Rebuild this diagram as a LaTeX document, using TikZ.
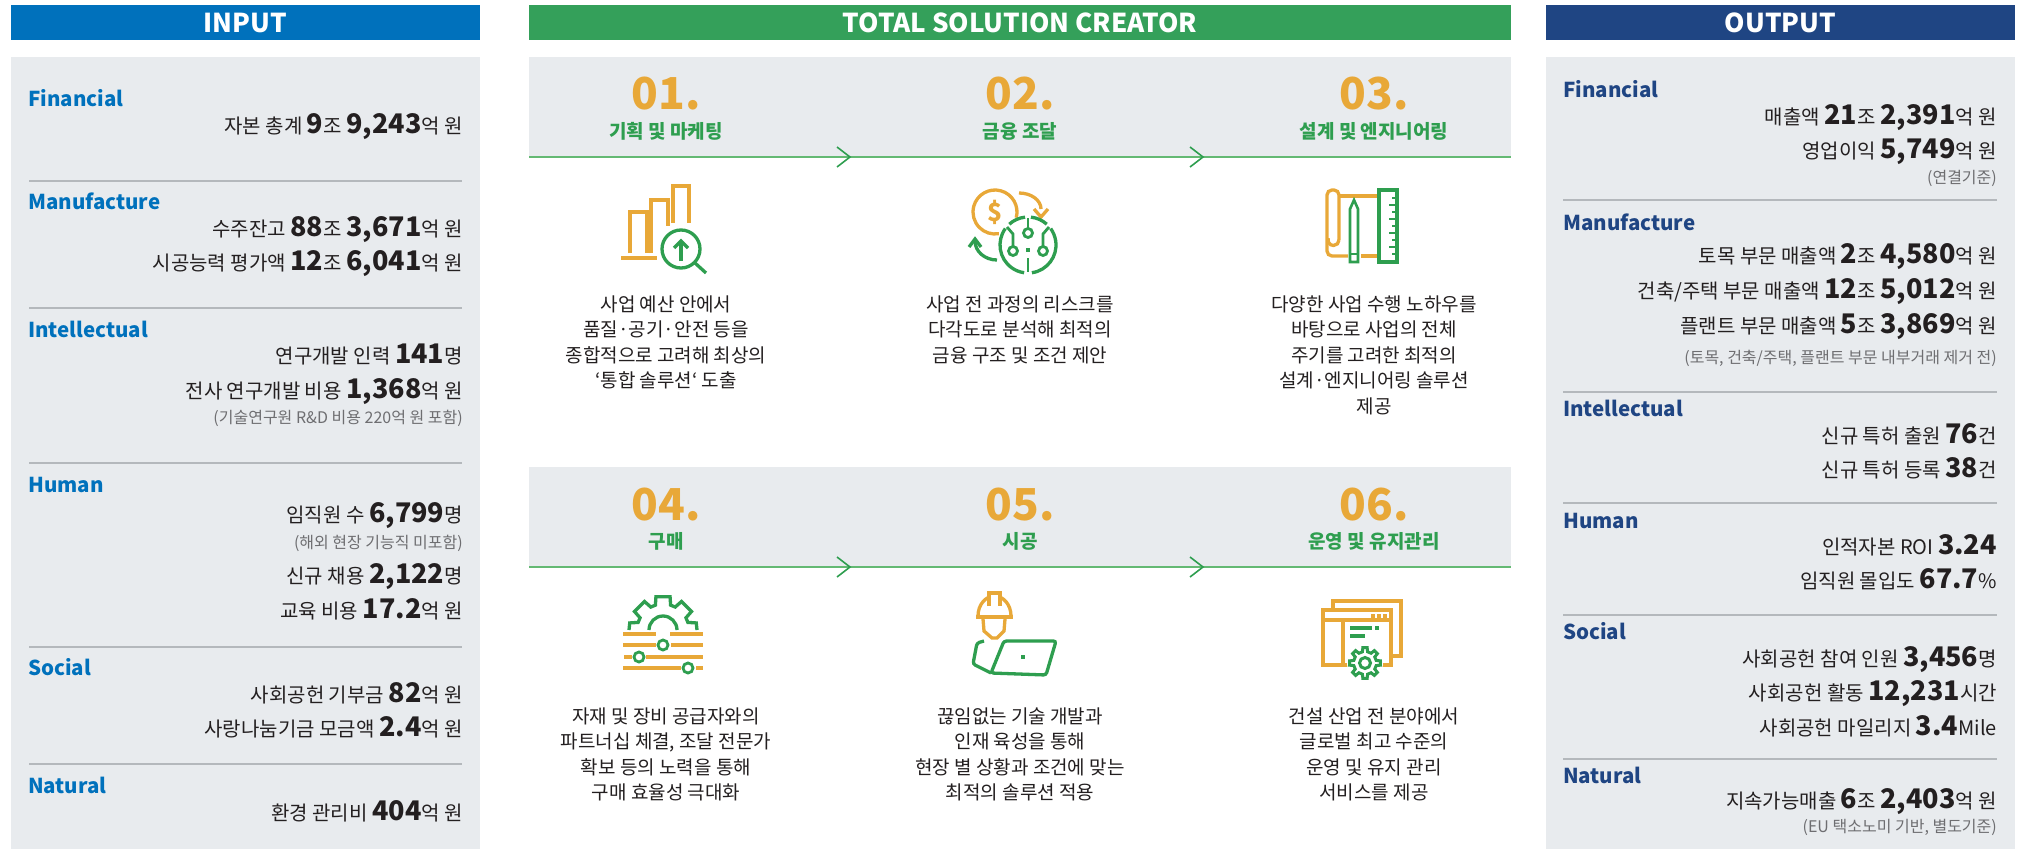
\documentclass[tikz,border=0pt]{standalone}
\usepackage{fontspec}
\setmainfont{Noto Sans CJK KR}
\definecolor{inblue}{RGB}{0,113,188}
\definecolor{outnavy}{RGB}{31,69,131}
\definecolor{hgreen}{RGB}{52,160,90}
\definecolor{igreen}{RGB}{46,158,79}
\definecolor{lgreen}{RGB}{100,185,115}
\definecolor{orng}{RGB}{232,168,56}
\definecolor{panelgray}{RGB}{232,235,238}
\definecolor{sepgray}{RGB}{180,184,188}
\definecolor{txt}{RGB}{35,31,32}
\definecolor{notegray}{RGB}{110,110,113}
\newcommand\bnum[1]{{\fontsize{27}{27}\selectfont\bfseries #1}}
\begin{document}
\begin{tikzpicture}[x=1pt,y=-1pt,
  hdr/.style={text=white, font=\fontsize{26}{26}\selectfont\bfseries, inner sep=0pt, minimum height=35pt},
  cat/.style={anchor=base west, font=\fontsize{20.5}{21}\selectfont\bfseries, inner sep=0pt},
  val/.style={anchor=base east, text=txt, font=\fontsize{20}{24}\selectfont, inner sep=0pt},
  note/.style={anchor=base east, text=notegray, font=\fontsize{16}{18}\selectfont, inner sep=0pt},
  sep/.style={sepgray, line width=1.5pt},
  stepnum/.style={anchor=base, text=orng, font=\fontsize{44}{44}\selectfont\bfseries, inner sep=0pt},
  steptitle/.style={anchor=base, text=igreen, font=\fontsize{19}{19}\selectfont\bfseries, inner sep=0pt},
  desc/.style={anchor=base, text=txt, font=\fontsize{19}{25.5}\selectfont, align=center, inner sep=0pt},
  oc/.style={draw=orng, line width=3.3pt},
  gc/.style={draw=igreen, line width=3.3pt},
  flowline/.style={draw=lgreen, line width=2pt},
  chev/.style={draw=igreen, line width=1.6pt}]
\fill[white] (0,0) rectangle (2037,851);
\useasboundingbox (0,0) rectangle (2037,851);

% panels
\fill[panelgray] (11,57) rectangle (480,849);
\fill[panelgray] (1546,57) rectangle (2015,849);
\fill[panelgray] (529,57) rectangle (1511,157);
\fill[panelgray] (529,467) rectangle (1511,567);

% headers
\node[hdr, fill=inblue, minimum width=469pt] (hin) at (245.5,22.5) {INPUT};
\node[hdr, fill=hgreen, minimum width=982pt] (hmid) at (1020,22.5) {TOTAL SOLUTION CREATOR};
\node[hdr, fill=outnavy, minimum width=469pt] (hout) at (1780.5,22.5) {OUTPUT};

% ---------------- INPUT ----------------
\node[cat, text=inblue] (ifin) at (28,106) {Financial};
\node[val] (ifin1) at (463,133) {자본 총계 \bnum{9}조 \bnum{9,243}억 원};
\draw[sep] (29,181) -- (462,181);
\node[cat, text=inblue] (iman) at (28,209) {Manufacture};
\node[val] (iman1) at (463,236) {수주잔고 \bnum{88}조 \bnum{3,671}억 원};
\node[val] (iman2) at (463,270) {시공능력 평가액 \bnum{12}조 \bnum{6,041}억 원};
\draw[sep] (29,308) -- (462,308);
\node[cat, text=inblue] (iint) at (28,337) {Intellectual};
\node[val] (iint1) at (463,363) {연구개발 인력 \bnum{141}명};
\node[val] (iint2) at (463,398) {전사 연구개발 비용 \bnum{1,368}억 원};
\node[note] (iint3) at (463,423) {(기술연구원 R\&D 비용 220억 원 포함)};
\draw[sep] (29,463) -- (462,463);
\node[cat, text=inblue] (ihum) at (28,492) {Human};
\node[val] (ihum1) at (463,522) {임직원 수 \bnum{6,799}명};
\node[note] (ihum2) at (463,548) {(해외 현장 기능직 미포함)};
\node[val] (ihum3) at (463,583) {신규 채용 \bnum{2,122}명};
\node[val] (ihum4) at (463,618) {교육 비용 \bnum{17.2}억 원};
\draw[sep] (29,647) -- (462,647);
\node[cat, text=inblue] (isoc) at (28,675) {Social};
\node[val] (isoc1) at (463,702) {사회공헌 기부금 \bnum{82}억 원};
\node[val] (isoc2) at (463,736) {사랑나눔기금 모금액 \bnum{2.4}억 원};
\draw[sep] (29,764) -- (462,764);
\node[cat, text=inblue] (inat) at (28,793) {Natural};
\node[val] (inat1) at (463,820) {환경 관리비 \bnum{404}억 원};

% ---------------- OUTPUT ----------------
\node[cat, text=outnavy] (ofin) at (1563,97) {Financial};
\node[val] (ofin1) at (1997,124) {매출액 \bnum{21}조 \bnum{2,391}억 원};
\node[val] (ofin2) at (1997,158) {영업이익 \bnum{5,749}억 원};
\node[note] (ofin3) at (1997,183) {(연결기준)};
\draw[sep] (1563,200) -- (1997,200);
\node[cat, text=outnavy] (oman) at (1563,230) {Manufacture};
\node[val] (oman1) at (1997,263) {토목 부문 매출액 \bnum{2}조 \bnum{4,580}억 원};
\node[val] (oman2) at (1997,298) {건축/주택 부문 매출액 \bnum{12}조 \bnum{5,012}억 원};
\node[val] (oman3) at (1997,333) {플랜트 부문 매출액 \bnum{5}조 \bnum{3,869}억 원};
\node[note] (oman4) at (1997,363) {(토목, 건축/주택, 플랜트 부문 내부거래 제거 전)};
\draw[sep] (1563,392) -- (1997,392);
\node[cat, text=outnavy] (oint) at (1563,416) {Intellectual};
\node[val] (oint1) at (1997,443) {신규 특허 출원 \bnum{76}건};
\node[val] (oint2) at (1997,477) {신규 특허 등록 \bnum{38}건};
\draw[sep] (1563,503) -- (1997,503);
\node[cat, text=outnavy] (ohum) at (1563,528) {Human};
\node[val] (ohum1) at (1997,554) {인적자본 ROI \bnum{3.24}};
\node[val] (ohum2) at (1997,588) {임직원 몰입도 \bnum{67.7}\%};
\draw[sep] (1563,615) -- (1997,615);
\node[cat, text=outnavy] (osoc) at (1563,639) {Social};
\node[val] (osoc1) at (1997,666) {사회공헌 참여 인원 \bnum{3,456}명};
\node[val] (osoc2) at (1997,700) {사회공헌 활동 \bnum{12,231}시간};
\node[val] (osoc3) at (1997,735) {사회공헌 마일리지 \bnum{3.4}Mile};
\draw[sep] (1563,759) -- (1997,759);
\node[cat, text=outnavy] (onat) at (1563,783) {Natural};
\node[val] (onat1) at (1997,808) {지속가능매출 \bnum{6}조 \bnum{2,403}억 원};
\node[note] (onat2) at (1997,832) {(EU 택소노미 기반, 별도기준)};

% ---------------- MIDDLE ----------------
\coordinate (fl1a) at (529,157); \coordinate (fl1b) at (1511,157);
\coordinate (fl2a) at (529,567); \coordinate (fl2b) at (1511,567);
\draw[flowline] (fl1a) -- (fl1b);
\draw[flowline] (fl2a) -- (fl2b);
\foreach \cx in {837,1190}{
  \draw[chev] (\cx,147) -- (\cx+13,157) -- (\cx,167);
  \draw[chev] (\cx,557) -- (\cx+13,567) -- (\cx,577);
}

\node[stepnum] (s1) at (666,110) {01.};
\node[stepnum] (s2) at (1020,110) {02.};
\node[stepnum] (s3) at (1374,110) {03.};
\node[steptitle] (t1) at (666,138) {기획 및 마케팅};
\node[steptitle] (t2) at (1020,138) {금융 조달};
\node[steptitle] (t3) at (1374,138) {설계 및 엔지니어링};
% desc nodes: base anchor = baseline of the last line
\node[desc] (d1) at (666,387.5) {사업 예산 안에서\\품질·공기·안전 등을\\종합적으로 고려해 최상의\\‘통합 솔루션‘ 도출};
\node[desc] (d2) at (1020,362) {사업 전 과정의 리스크를\\다각도로 분석해 최적의\\금융 구조 및 조건 제안};
\node[desc] (d3) at (1374,413) {다양한 사업 수행 노하우를\\바탕으로 사업의 전체\\주기를 고려한 최적의\\설계·엔지니어링 솔루션\\제공};

\node[stepnum] (s4) at (666,520) {04.};
\node[stepnum] (s5) at (1020,520) {05.};
\node[stepnum] (s6) at (1374,520) {06.};
\node[steptitle] (t4) at (666,548) {구매};
\node[steptitle] (t5) at (1020,548) {시공};
\node[steptitle] (t6) at (1374,548) {운영 및 유지관리};
\node[desc] (d4) at (666,799.5) {자재 및 장비 공급자와의\\파트너십 체결, 조달 전문가\\확보 등의 노력을 통해\\구매 효율성 극대화};
\node[desc] (d5) at (1020,799.5) {끊임없는 기술 개발과\\인재 육성을 통해\\현장 별 상황과 조건에 맞는\\최적의 솔루션 적용};
\node[desc] (d6) at (1374,799.5) {건설 산업 전 분야에서\\글로벌 최고 수준의\\운영 및 유지 관리\\서비스를 제공};

% ---------------- ICONS ----------------
% icon 1: bars + magnifier
\draw[oc] (621,258) -- (657,258);
\draw[oc] (630,253) -- (630,212) -- (647,212) -- (647,253);
\draw[oc] (651,253) -- (651,200) -- (668,200) -- (668,226);
\draw[oc] (673,223) -- (673,186) -- (689,186) -- (689,223);
\draw[gc] (681,249) circle[radius=19pt];
\draw[gc] (695,263) -- (706,273);
\draw[gc] (681,261) -- (681,242);
\draw[gc] (674,248) -- (681,241) -- (688,248);

% icon 2: money / circuit
\draw[oc] ([shift={(-15:22pt)}]995,212) arc[start angle=-15, end angle=280, radius=22pt];
\node[text=orng, font=\fontsize{25}{25}\selectfont\bfseries, inner sep=0pt] (dollar) at (995,212) {\$};
\draw[oc] (1019,193) arc[start angle=90, end angle=0, x radius=22pt, y radius=16pt];
\draw[oc] (1034,209) -- (1041,217) -- (1048,209);
\draw[gc] (997,260) arc[start angle=270, end angle=180, x radius=22pt, y radius=19pt];
\draw[gc] (969,247) -- (975,239) -- (981,247);
\begin{scope}[shift={(1028,245)}]
  \draw[gc] (48:28pt) arc[start angle=48, end angle=84, radius=28pt];
  \draw[gc] (96:28pt) arc[start angle=96, end angle=132, radius=28pt];
  \draw[gc] (144:28pt) arc[start angle=144, end angle=262, radius=28pt];
  \draw[gc] (278:28pt) arc[start angle=278, end angle=396, radius=28pt];
\end{scope}
\draw[gc, line width=2.8pt] (1028,233) circle[radius=4.5pt];
\draw[gc, line width=2.8pt] (1013,251) circle[radius=4.5pt];
\draw[gc, line width=2.8pt] (1043,251) circle[radius=4.5pt];
\draw[gc, line width=2.8pt] (1028,228) -- (1028,218);
\draw[gc, line width=2.8pt] (1013,246) -- (1013,234) -- (1007,227);
\draw[gc, line width=2.8pt] (1043,246) -- (1043,234) -- (1049,227);
\fill[igreen] (1026,248) rectangle (1030,252);
\draw[gc, line width=2.8pt] (1028,258) -- (1028,272);

% icon 3: scroll, pencil, ruler
\draw[oc, rounded corners=5pt] (1339,240) -- (1339,190) -- (1327,190) -- (1327,256) -- (1348,256);
\draw[oc] (1361,256) -- (1377,256);
\draw[oc] (1339,196) -- (1377,196);
\draw[oc] (1339,240) arc[start angle=0, end angle=-200, radius=5.5pt];
\draw[gc, line width=2.6pt] (1350,262) -- (1350,209) -- (1354,200) -- (1358,209) -- (1358,262) -- cycle;
\draw[gc, line width=2.2pt] (1350,254) -- (1358,254);
\draw[gc] (1379,190) rectangle (1397,262);
\foreach \ty/\tl in {198/5,205/8,212/5,219/8,226/5,233/8,240/5,247/8,254/5}
  \draw[igreen, line width=2pt] (1397,\ty) -- (1397-\tl,\ty);

% icon 4: gear + sliders
\draw[gc, shift={(663,630)}] (0:34pt) -- (12:34pt) -- (17:26pt) -- (28:26pt) -- (33:34pt) -- (57:34pt) -- (62:26pt) -- (73:26pt) -- (78:34pt) -- (102:34pt) -- (107:26pt) -- (118:26pt) -- (123:34pt) -- (147:34pt) -- (152:26pt) -- (163:26pt) -- (168:34pt) -- (180:34pt);
\draw[gc] (677,630) arc[start angle=0, end angle=180, radius=14pt];
\draw[oc] (623,634) -- (656,634);
\draw[oc] (670,634) -- (703,634);
\draw[oc] (623,645) -- (656,645);
\draw[oc] (671,645) -- (703,645);
\draw[oc] (624,657) -- (632,657);
\draw[oc] (646,657) -- (703,657);
\draw[oc] (623,668) -- (681,668);
\draw[oc] (696,668) -- (703,668);
\draw[gc, line width=2.8pt] (663,645) circle[radius=5pt];
\draw[gc, line width=2.8pt] (639,657) circle[radius=5pt];
\draw[gc, line width=2.8pt] (688,668) circle[radius=5pt];

% icon 5: worker + laptop
\draw[oc] (978,616) arc[start angle=180, end angle=0, x radius=16.5pt, y radius=20pt];
\fill[white] (989,592) rectangle (1000,606);
\draw[oc] (989,606) -- (989,593) -- (1000,593) -- (1000,606);
\draw[oc] (976,617) -- (1013,617);
\draw[oc] (983,619) -- (984,631) -- (992,638) -- (997,638) -- (1004,631) -- (1005,619);
\draw[gc, rounded corners=2.5pt] (1004,641) -- (1056,641) -- (1046,675) -- (991,673) -- cycle;
\draw[gc, rounded corners=2.5pt] (984,641) -- (977,643) -- (973,664) -- (991,673);
\fill[igreen] (1021,655) rectangle (1025,659);

% icon 6: windows + gear
\draw[oc] (1333,608) -- (1333,601) -- (1401,601) -- (1401,656) -- (1392,656);
\draw[oc] (1323,610) rectangle (1391,665);
\draw[oc] (1323,620) -- (1391,620);
\draw[oc] (1343,620) -- (1343,665);
\fill[orng] (1371,614) rectangle (1375,618);
\fill[orng] (1377,614) rectangle (1381,618);
\fill[orng] (1383,614) rectangle (1387,618);
\draw[igreen, line width=4pt] (1350,628) -- (1372,628);
\fill[igreen] (1375,626) rectangle (1379,630);
\draw[igreen, line width=4pt] (1350,636) -- (1365,636);
\fill[white, shift={(1365,663)}] (0,0) circle[radius=18pt];
\draw[gc, line width=3pt, shift={(1365,663)}] (-13:11.5pt) -- (-8:15.5pt) -- (8:15.5pt) -- (13:11.5pt) -- (32:11.5pt) -- (37:15.5pt) -- (53:15.5pt) -- (58:11.5pt) -- (77:11.5pt) -- (82:15.5pt) -- (98:15.5pt) -- (103:11.5pt) -- (122:11.5pt) -- (127:15.5pt) -- (143:15.5pt) -- (148:11.5pt) -- (167:11.5pt) -- (172:15.5pt) -- (188:15.5pt) -- (193:11.5pt) -- (212:11.5pt) -- (217:15.5pt) -- (233:15.5pt) -- (238:11.5pt) -- (257:11.5pt) -- (262:15.5pt) -- (278:15.5pt) -- (283:11.5pt) -- (302:11.5pt) -- (307:15.5pt) -- (323:15.5pt) -- (328:11.5pt) -- cycle;
\draw[gc, line width=3pt] (1365,663) circle[radius=5.5pt];
\end{tikzpicture}
\end{document}
